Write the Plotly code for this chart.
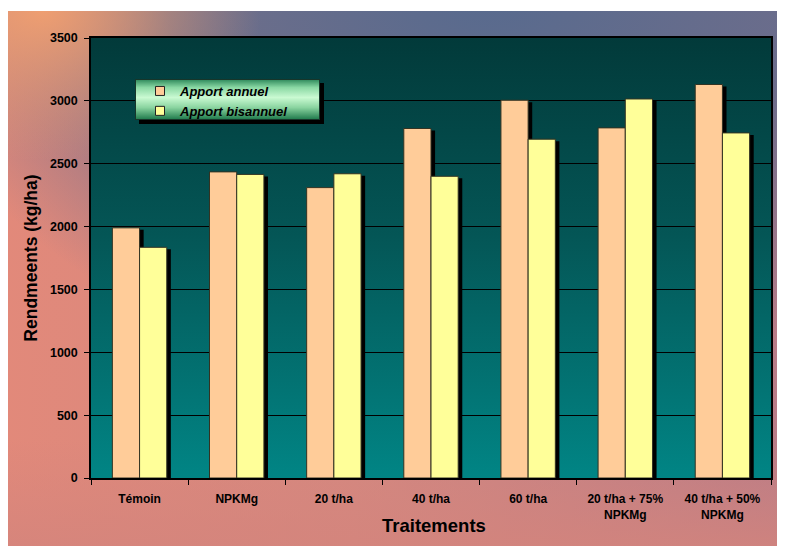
import base64
import plotly.graph_objects as go

categories = ["Témoin", "NPKMg", "20 t/ha", "40 t/ha", "60 t/ha",
              "20 t/ha + 75%<br>NPKMg", "40 t/ha + 50%<br>NPKMg"]
apport_annuel = [1990, 2435, 2310, 2780, 3005, 2785, 3130]
apport_bisannuel = [1835, 2415, 2420, 2400, 2695, 3015, 2745]
y_ticks = [0, 500, 1000, 1500, 2000, 2500, 3000, 3500]

series = [("Apport annuel", apport_annuel, "#FFCC99", -0.28),
          ("Apport bisannuel", apport_bisannuel, "#FFFF99", 0.0)]
BAR_W = 0.28
SHADOW_DX = 0.042
SHADOW_DY = 16


def svg_uri(svg):
    return "data:image/svg+xml;base64," + base64.b64encode(svg.encode()).decode()


bg_svg = """<svg xmlns='http://www.w3.org/2000/svg' width='782' height='535' viewBox='0 0 782 535' preserveAspectRatio='none'>
<defs>
<linearGradient id='h' x1='0' y1='0' x2='1' y2='0'>
<stop offset='0' stop-color='#e2897a'/><stop offset='0.45' stop-color='#d48880'/><stop offset='1' stop-color='#b87c88'/>
</linearGradient>
<radialGradient id='tr' cx='0.62' cy='-0.05' r='0.75' gradientUnits='objectBoundingBox'>
<stop offset='0' stop-color='#566a8e' stop-opacity='1'/><stop offset='0.55' stop-color='#5e6a8c' stop-opacity='0.85'/><stop offset='1' stop-color='#6a6a8c' stop-opacity='0'/>
</radialGradient>
<radialGradient id='tl' cx='0.05' cy='0.0' r='0.28'>
<stop offset='0' stop-color='#f2a070' stop-opacity='0.95'/><stop offset='1' stop-color='#f2a070' stop-opacity='0'/>
</radialGradient>
<linearGradient id='b' x1='0' y1='0' x2='0' y2='1'>
<stop offset='0.8' stop-color='#d4847c' stop-opacity='0'/><stop offset='1' stop-color='#d4847c' stop-opacity='0.8'/>
</linearGradient>
</defs>
<rect width='782' height='535' fill='url(#h)'/>
<rect width='782' height='535' fill='url(#tr)'/>
<rect width='782' height='535' fill='url(#tl)'/>
<rect width='782' height='535' fill='url(#b)'/>
</svg>"""

plot_svg = """<svg xmlns='http://www.w3.org/2000/svg' width='100' height='100' viewBox='0 0 100 100' preserveAspectRatio='none'>
<defs><linearGradient id='g' x1='0' y1='0' x2='0' y2='1'>
<stop offset='0' stop-color='#023a3a'/><stop offset='0.45' stop-color='#045656'/><stop offset='1' stop-color='#018585'/>
</linearGradient></defs>
<rect width='100' height='100' fill='url(#g)'/></svg>"""

legend_svg = """<svg xmlns='http://www.w3.org/2000/svg' width='189' height='45' viewBox='0 0 189 45' preserveAspectRatio='none'>
<defs><linearGradient id='g' x1='0' y1='0' x2='0' y2='1'>
<stop offset='0' stop-color='#2f8a5c'/><stop offset='0.2' stop-color='#8ad8a4'/><stop offset='0.45' stop-color='#cafad2'/>
<stop offset='0.7' stop-color='#8ad4a0'/><stop offset='1' stop-color='#1f7a4c'/>
</linearGradient></defs>
<rect x='4' y='4' width='185' height='41' fill='#000'/>
<rect x='0.5' y='0.5' width='184' height='40' fill='url(#g)' stroke='#17362a' stroke-width='1'/>
</svg>"""

fig = go.Figure()
for name, vals, color, off in series:
    fig.add_trace(go.Bar(
        x=categories, y=[v - SHADOW_DY for v in vals], width=BAR_W, offset=off + SHADOW_DX,
        marker=dict(color="#000000", line=dict(width=0)), showlegend=False, hoverinfo="skip"))
    fig.add_trace(go.Bar(
        x=categories, y=vals, width=BAR_W, offset=off, name=name,
        marker=dict(color=color, line=dict(color="#333322", width=1)), showlegend=False))

for name, vals, color, off in series:
    fig.add_trace(go.Scatter(
        x=[None], y=[None], mode="markers", name=name,
        marker=dict(symbol="square", size=9, color=color, line=dict(color="#222222", width=1))))

# page body has an 8px margin: work in window pixels, shifted by OFF
OFF = 8
W, H = 785 - OFF, 546 - OFF
PL, PR, PT, PB = 91 - OFF, 771 - OFF, 38 - OFF, 478 - OFF
pw, ph = PR - PL, PB - PT


def px_x(p):
    return (p - OFF - PL) / pw


def px_y(p):
    return (PB - (p - OFF)) / ph


fig.update_layout(
    width=W, height=H,
    margin=dict(l=PL, r=W - PR, t=PT, b=H - PB),
    paper_bgcolor="white",
    plot_bgcolor="rgba(0,0,0,0)",
    barmode="overlay",
    font=dict(family="Arial, Liberation Sans, sans-serif", color="#000000"),
    showlegend=True,
    legend=dict(
        x=px_x(140), y=px_y(76), xanchor="left", yanchor="top",
        bgcolor="rgba(0,0,0,0)", borderwidth=0,
        font=dict(size=13, weight="bold", style="italic", color="#000000"),
        tracegroupgap=0,
    ),
    images=[
        dict(source=svg_uri(bg_svg), xref="paper", yref="paper",
             x=px_x(3), y=px_y(11), sizex=(785 - 3) / pw, sizey=(546 - 11) / ph,
             xanchor="left", yanchor="top", sizing="stretch", layer="below"),
        dict(source=svg_uri(plot_svg), xref="x domain", yref="y domain",
             x=0, y=1, sizex=1, sizey=1, xanchor="left", yanchor="top",
             sizing="stretch", layer="below"),
        dict(source=svg_uri(legend_svg), xref="paper", yref="paper",
             x=px_x(135), y=px_y(79), sizex=189 / pw, sizey=45 / ph,
             xanchor="left", yanchor="top", sizing="stretch", layer="above"),
    ],
    annotations=[
        dict(text="Traitements", xref="paper", yref="paper",
             x=px_x(434), y=px_y(525), xanchor="center", yanchor="middle",
             showarrow=False, font=dict(size=18.5, weight="bold", color="#000000")),
    ],
    xaxis=dict(
        type="category", range=[-0.5, len(categories) - 0.5],
        showline=True, linecolor="#000000", linewidth=1.5, mirror=True,
        ticks="outside", tickson="boundaries", ticklen=5, tickcolor="#000000",
        tickfont=dict(size=12, weight="bold"), ticklabelstandoff=9,
        showgrid=False,
    ),
    yaxis=dict(
        range=[0, 3500], tickvals=y_ticks,
        showline=True, linecolor="#000000", linewidth=1.5, mirror=True,
        ticks="outside", ticklen=5, tickcolor="#000000",
        tickfont=dict(size=12.5, weight="bold"), ticklabelstandoff=4,
        showgrid=True, gridcolor="#000000", gridwidth=1,
        zeroline=False,
        title=dict(text="Rendmeents (kg/ha)", font=dict(size=17.5, weight="bold"), standoff=8),
    ),
)

fig.write_html("out.html")
